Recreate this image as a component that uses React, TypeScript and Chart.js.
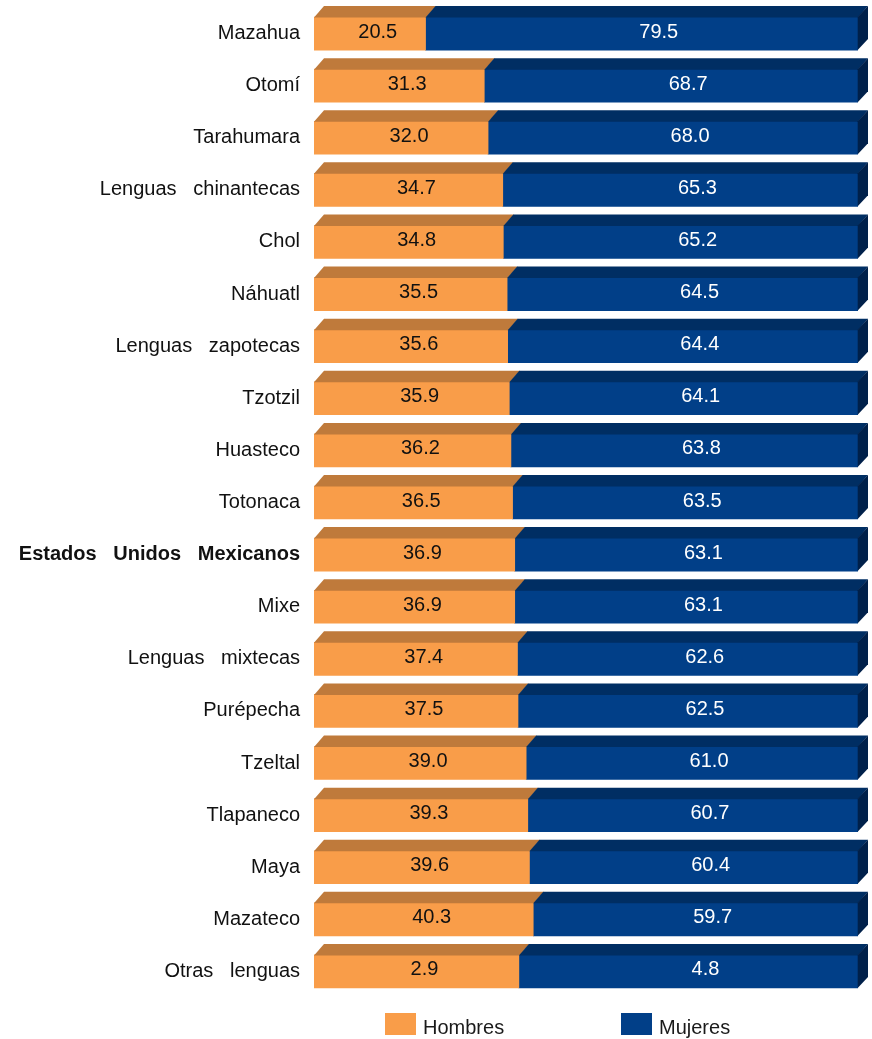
import { useEffect, useRef } from "react";
import { Chart, registerables } from "chart.js";

Chart.register(...registerables);

const categories = [
  "Mazahua",
  "Otomí",
  "Tarahumara",
  "Lenguas chinantecas",
  "Chol",
  "Náhuatl",
  "Lenguas zapotecas",
  "Tzotzil",
  "Huasteco",
  "Totonaca",
  "Estados Unidos Mexicanos",
  "Mixe",
  "Lenguas mixtecas",
  "Purépecha",
  "Tzeltal",
  "Tlapaneco",
  "Maya",
  "Mazateco",
  "Otras lenguas",
];
const hombres = [20.5, 31.3, 32.0, 34.7, 34.8, 35.5, 35.6, 35.9, 36.2, 36.5, 36.9, 36.9, 37.4, 37.5, 39.0, 39.3, 39.6, 40.3, 2.9];
const mujeres = [79.5, 68.7, 68.0, 65.3, 65.2, 64.5, 64.4, 64.1, 63.8, 63.5, 63.1, 63.1, 62.6, 62.5, 61.0, 60.7, 60.4, 59.7, 4.8];
const seriesNames = ["Hombres", "Mujeres"];
const boldCategory = "Estados Unidos Mexicanos";

const frontColors = ["#F99D49", "#013F88"];
const topColors = ["#BF7A3B", "#002E63"];
const sideColor = "#00204A";
const labelColors = ["#111111", "#FFFFFF"];
const FONT = "'Liberation Sans', Arial, sans-serif";

const share = (a: number[], b: number[]) => a.map((v, i) => (v / (v + b[i])) * 100);

const threeDPlugin = {
  id: "threeD",
  afterDatasetsDraw(chart: any) {
    const ctx = chart.ctx;
    const dx = 10;
    const dy = 11;
    const n = chart.data.datasets.length;
    ctx.save();
    chart.data.datasets.forEach((ds: any, di: number) => {
      const meta = chart.getDatasetMeta(di);
      meta.data.forEach((el: any, i: number) => {
        const p = el.getProps(["x", "y", "base", "height"], true);
        const top = p.y - p.height / 2;
        const bot = p.y + p.height / 2;
        const x0 = Math.min(p.x, p.base);
        const x1 = Math.max(p.x, p.base);
        const ext = di < n - 1 ? 0.6 : 0;
        ctx.fillStyle = topColors[di];
        ctx.beginPath();
        ctx.moveTo(x0, top + 0.5);
        ctx.lineTo(x0 + dx, top - dy);
        ctx.lineTo(x1 + dx + ext, top - dy);
        ctx.lineTo(x1 + ext, top + 0.5);
        ctx.closePath();
        ctx.fill();
        if (di === n - 1) {
          ctx.fillStyle = sideColor;
          ctx.beginPath();
          ctx.moveTo(x1 - 0.3, top);
          ctx.lineTo(x1 + dx, top - dy);
          ctx.lineTo(x1 + dx, bot - dy);
          ctx.lineTo(x1 - 0.3, bot);
          ctx.closePath();
          ctx.fill();
        }
        const vals = ds.labelValues as number[];
        const shift = di === 0 ? 8 : 17;
        ctx.fillStyle = labelColors[di];
        ctx.font = `20px ${FONT}`;
        ctx.textAlign = "center";
        ctx.textBaseline = "middle";
        ctx.fillText(vals[i].toFixed(1), (x0 + x1) / 2 + shift, p.y - 1.5);
      });
    });
    ctx.restore();
  },
  afterDraw(chart: any) {
    const ctx = chart.ctx;
    const boxX = [385, 621];
    const textX = [423, 659];
    ctx.save();
    chart.data.datasets.forEach((ds: any, di: number) => {
      ctx.fillStyle = frontColors[di];
      ctx.fillRect(boxX[di], 1013, 31, 22);
      ctx.fillStyle = "#1a1a1a";
      ctx.font = `20px ${FONT}`;
      ctx.textAlign = "left";
      ctx.textBaseline = "middle";
      ctx.fillText(ds.label, textX[di], 1028);
    });
    ctx.restore();
  },
};

export default function App() {
  const ref = useRef<HTMLCanvasElement | null>(null);

  useEffect(() => {
    if (!ref.current) return;
    const chart = new Chart(ref.current, {
      type: "bar",
      data: {
        labels: categories,
        datasets: [
          {
            label: seriesNames[0],
            data: share(hombres, mujeres),
            labelValues: hombres,
            backgroundColor: frontColors[0],
            borderWidth: 0,
            barThickness: 33,
          } as any,
          {
            label: seriesNames[1],
            data: share(mujeres, hombres),
            labelValues: mujeres,
            backgroundColor: frontColors[1],
            borderWidth: 0,
            barThickness: 33,
          } as any,
        ],
      },
      options: {
        indexAxis: "y",
        animation: false,
        responsive: false,
        layout: { padding: { top: 7.5, bottom: 41.5, right: 14, left: 0 } },
        plugins: {
          legend: { display: false },
          tooltip: { enabled: false },
        },
        scales: {
          x: { stacked: true, min: 0, max: 100, display: false },
          y: {
            stacked: true,
            grid: { display: false, drawTicks: false },
            border: { display: false },
            afterFit: (scale: any) => {
              scale.width = 314;
              scale.paddingTop = 0;
              scale.paddingBottom = 0;
            },
            ticks: {
              padding: 14,
              color: "#111111",
              autoSkip: false,
              font: (c: any) =>
                categories[c.index] === boldCategory
                  ? { family: FONT, size: 20, weight: "bold" }
                  : { family: FONT, size: 20 },
              callback: (_v: any, i: number) => categories[i].replace(/ /g, "   "),
            },
          },
        },
      } as any,
      plugins: [threeDPlugin],
    });
    return () => chart.destroy();
  }, []);

  return (
    <div style={{ position: "absolute", left: 0, top: 0, width: 872, height: 1039, background: "#fff" }}>
      <canvas ref={ref} width={872} height={1039} style={{ display: "block" }} />
    </div>
  );
}
